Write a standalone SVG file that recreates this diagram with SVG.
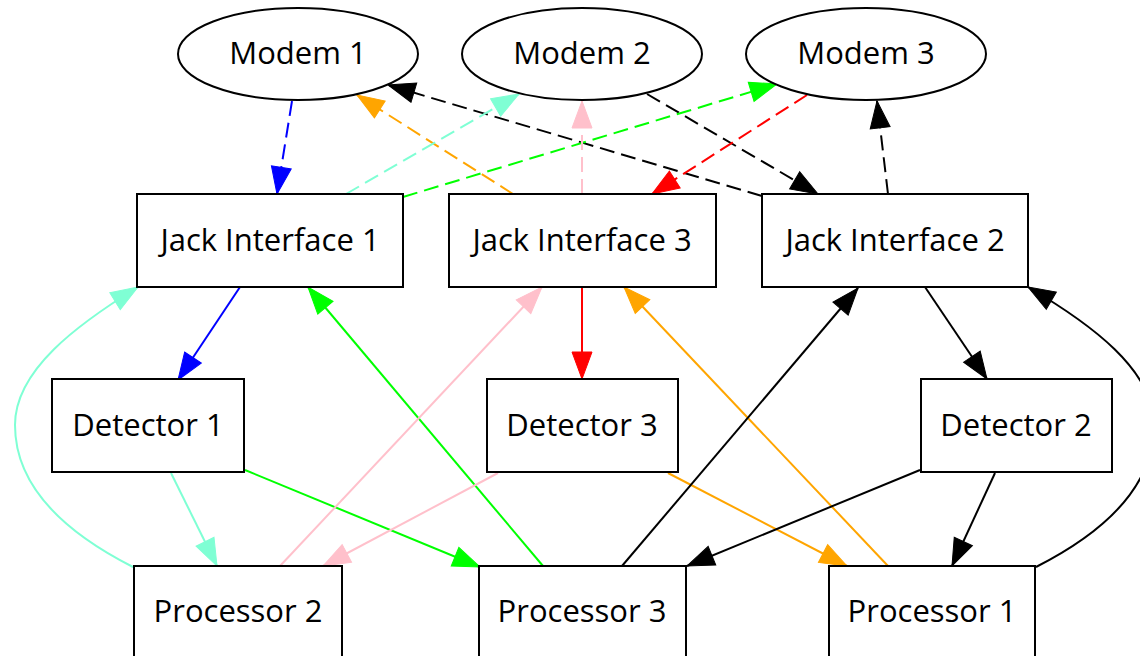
<svg xmlns="http://www.w3.org/2000/svg" width="1140" height="656" viewBox="0 0 1140 656">
  <style>
    .node rect, .node ellipse { fill: #fff; stroke: #000; stroke-width: 2; }
    .node text { font-family: "Open Sans", "Liberation Sans", sans-serif; font-size: 31px; fill: #000; text-anchor: middle; }
    .edge { fill: none; stroke-width: 2; }
    .dash { stroke-dasharray: 15 7; }
  </style>
  <defs>
    <marker id="ah-black" markerUnits="userSpaceOnUse" markerWidth="30" markerHeight="22" refX="27" refY="10" orient="auto" overflow="visible"><path d="M0,0 L27,10 L0,20 Z" fill="#000" stroke="#000" stroke-width="1"/></marker>
    <marker id="ah-blue" markerUnits="userSpaceOnUse" markerWidth="30" markerHeight="22" refX="27" refY="10" orient="auto" overflow="visible"><path d="M0,0 L27,10 L0,20 Z" fill="#0000ff" stroke="#0000ff" stroke-width="1"/></marker>
    <marker id="ah-aqua" markerUnits="userSpaceOnUse" markerWidth="30" markerHeight="22" refX="27" refY="10" orient="auto" overflow="visible"><path d="M0,0 L27,10 L0,20 Z" fill="#7fffd4" stroke="#7fffd4" stroke-width="1"/></marker>
    <marker id="ah-green" markerUnits="userSpaceOnUse" markerWidth="30" markerHeight="22" refX="27" refY="10" orient="auto" overflow="visible"><path d="M0,0 L27,10 L0,20 Z" fill="#00ff00" stroke="#00ff00" stroke-width="1"/></marker>
    <marker id="ah-orange" markerUnits="userSpaceOnUse" markerWidth="30" markerHeight="22" refX="27" refY="10" orient="auto" overflow="visible"><path d="M0,0 L27,10 L0,20 Z" fill="#ffa500" stroke="#ffa500" stroke-width="1"/></marker>
    <marker id="ah-pink" markerUnits="userSpaceOnUse" markerWidth="30" markerHeight="22" refX="27" refY="10" orient="auto" overflow="visible"><path d="M0,0 L27,10 L0,20 Z" fill="#ffc0cb" stroke="#ffc0cb" stroke-width="1"/></marker>
    <marker id="ah-red" markerUnits="userSpaceOnUse" markerWidth="30" markerHeight="22" refX="27" refY="10" orient="auto" overflow="visible"><path d="M0,0 L27,10 L0,20 Z" fill="#ff0000" stroke="#ff0000" stroke-width="1"/></marker>
  </defs>
  <rect width="1140" height="656" fill="#fff"/>

  <!-- connectors -->
  <g id="edges">
    <!-- modem links (dashed) -->
    <path class="edge dash" stroke="#0000ff" marker-end="url(#ah-blue)" d="M292,101 L277,194"/>
    <path class="edge dash" stroke="#000" marker-end="url(#ah-black)" d="M762,196 L388,85"/>
    <path class="edge dash" stroke="#000" marker-end="url(#ah-black)" d="M647,94 L818,194"/>
    <path class="edge dash" stroke="#ffa500" marker-end="url(#ah-orange)" d="M513,194 L357,95"/>
    <path class="edge dash" stroke="#7fffd4" marker-end="url(#ah-aqua)" d="M346,194 L519,94"/>
    <path class="edge dash" stroke="#00ff00" marker-end="url(#ah-green)" d="M403,197 L777,84"/>
    <path class="edge dash" stroke="#ffc0cb" marker-end="url(#ah-pink)" d="M582,194 L582,101"/>
    <path class="edge dash" stroke="#ff0000" marker-end="url(#ah-red)" d="M807,95 L652,194"/>
    <path class="edge dash" stroke="#000" marker-end="url(#ah-black)" d="M888,194 L877,101"/>

    <!-- interface / detector / processor links -->
    <path class="edge" stroke="#0000ff" marker-end="url(#ah-blue)" d="M240,287 L178,380"/>
    <path class="edge" stroke="#7fffd4" marker-end="url(#ah-aqua)" d="M133,567 C70,535 15,490 15,425 C15,370 78,324 138,287"/>
    <path class="edge" stroke="#00ff00" marker-end="url(#ah-green)" d="M543,566 L308,287"/>
    <path class="edge" stroke="#7fffd4" marker-end="url(#ah-aqua)" d="M171,473 L217,566"/>
    <path class="edge" stroke="#00ff00" marker-end="url(#ah-green)" d="M245,470 L480,567"/>
    <path class="edge" stroke="#ffc0cb" marker-end="url(#ah-pink)" d="M280,566 L542,287"/>
    <path class="edge" stroke="#ffc0cb" marker-end="url(#ah-pink)" d="M498,473 L323,566"/>
    <path class="edge" stroke="#ff0000" marker-end="url(#ah-red)" d="M582,287 L582,379"/>
    <path class="edge" stroke="#ffa500" marker-end="url(#ah-orange)" d="M888,566 L624,287"/>
    <path class="edge" stroke="#ffa500" marker-end="url(#ah-orange)" d="M668,473 L847,566"/>
    <path class="edge" stroke="#000" marker-end="url(#ah-black)" d="M622,566 L858,288"/>
    <path class="edge" stroke="#000" marker-end="url(#ah-black)" d="M925,287 L987,379"/>
    <path class="edge" stroke="#000" marker-end="url(#ah-black)" d="M920,470 L687,566"/>
    <path class="edge" stroke="#000" marker-end="url(#ah-black)" d="M995,473 L952,566"/>
    <path class="edge" stroke="#000" marker-end="url(#ah-black)" d="M1036,567 C1099,535 1154,490 1154,425 C1154,370 1091,324 1028,287"/>
  </g>

  <!-- modems -->
  <g id="modem1" class="node"><ellipse cx="298" cy="54" rx="120" ry="46"/><text x="298" y="64">Modem 1</text></g>
  <g id="modem2" class="node"><ellipse cx="582" cy="54" rx="120" ry="46"/><text x="582" y="64">Modem 2</text></g>
  <g id="modem3" class="node"><ellipse cx="866" cy="54" rx="120" ry="46"/><text x="866" y="64">Modem 3</text></g>

  <!-- jack interfaces -->
  <g id="jack1" class="node"><rect x="137" y="194" width="266" height="93"/><text x="270" y="251">Jack Interface 1</text></g>
  <g id="jack3" class="node"><rect x="449" y="194" width="267" height="93"/><text x="582" y="251">Jack Interface 3</text></g>
  <g id="jack2" class="node"><rect x="762" y="194" width="266" height="93"/><text x="895" y="251">Jack Interface 2</text></g>

  <!-- detectors -->
  <g id="detector1" class="node"><rect x="52" y="379" width="192" height="93"/><text x="148" y="436">Detector 1</text></g>
  <g id="detector3" class="node"><rect x="487" y="379" width="191" height="93"/><text x="582" y="436">Detector 3</text></g>
  <g id="detector2" class="node"><rect x="921" y="379" width="191" height="93"/><text x="1016" y="436">Detector 2</text></g>

  <!-- processors -->
  <g id="processor2" class="node"><rect x="134" y="566" width="208" height="93"/><text x="238" y="622">Processor 2</text></g>
  <g id="processor3" class="node"><rect x="479" y="566" width="207" height="93"/><text x="582" y="622">Processor 3</text></g>
  <g id="processor1" class="node"><rect x="829" y="566" width="206" height="93"/><text x="932" y="622">Processor 1</text></g>
</svg>
